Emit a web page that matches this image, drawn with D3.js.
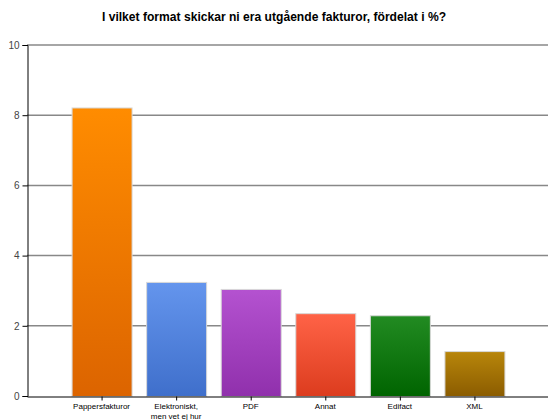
<!DOCTYPE html>
<html><head><meta charset="utf-8">
<script src="https://cdn.jsdelivr.net/npm/d3@7"></script>
<style>body{margin:0;background:#fff}svg{display:block}</style>
</head><body>
<svg id="c" width="548" height="420"></svg>
<script>
const categories = ["Pappersfakturor", "Elektroniskt,\nmen vet ej hur", "PDF", "Annat", "Edifact", "XML"];
const values = [8.22, 3.25, 3.05, 2.36, 2.3, 1.28];
const yTicks = [0, 2, 4, 6, 8, 10];
const topColors = ["#ff8c00", "#6495ed", "#b452d0", "#ff6347", "#228b22", "#b8860b"];
const bottomColors = ["#dc6400", "#3f6fcb", "#9030ac", "#dc3c1e", "#006400", "#8b5c00"];
const title = "I vilket format skickar ni era utgående fakturor, fördelat i %?";

const svg = d3.select("#c");
const mLeft = 27, mRight = 549, mTop = 45, mBottom = 396;
const x = d3.scaleLinear().domain([0, categories.length + 1]).range([mLeft, mRight]);
const y = d3.scaleLinear().domain([0, 10]).range([mBottom, mTop]);
const barW = 60;

const defs = svg.append("defs");
categories.forEach((c, i) => {
  const g = defs.append("linearGradient").attr("id", "g" + i)
    .attr("x1", 0).attr("y1", 0).attr("x2", 0).attr("y2", 1);
  g.append("stop").attr("offset", "0%").attr("stop-color", topColors[i]);
  g.append("stop").attr("offset", "100%").attr("stop-color", bottomColors[i]);
});

svg.append("text").attr("x", 274).attr("y", 21).attr("text-anchor", "middle")
  .attr("font-family", "Liberation Sans, Arial, sans-serif").attr("font-weight", "bold")
  .attr("font-size", 12.1).attr("fill", "#000").text(title);

// gridlines
svg.append("g").selectAll("line").data(yTicks.filter(d => d > 0)).join("line")
  .attr("x1", mLeft).attr("x2", mRight).attr("y1", d => y(d)).attr("y2", d => y(d))
  .attr("stroke", "#888").attr("stroke-width", 1.5);

// bars
svg.append("g").selectAll("rect").data(values).join("rect")
  .attr("x", (d, i) => x(i + 1) - barW / 2 + 0.5).attr("width", barW)
  .attr("y", d => y(d) + 0.5).attr("height", d => mBottom - y(d))
  .attr("fill", (d, i) => `url(#g${i})`)
  .attr("stroke", "#d8d8d8").attr("stroke-width", 1);

// y axis
const yAxis = d3.axisLeft(y).tickValues(yTicks).tickSize(5).tickPadding(3).tickFormat(d3.format("d"));
const ya = svg.append("g").attr("transform", `translate(${mLeft + 0.5},0)`).call(yAxis);
ya.select(".domain").attr("stroke", "#000");
ya.selectAll(".tick line").attr("stroke", "#000");
ya.selectAll("text").attr("font-family", "Liberation Sans, Arial, sans-serif").attr("font-size", 10).attr("fill", "#444");

// x axis
const xAxis = d3.axisBottom(x).tickValues(d3.range(1, categories.length + 1)).tickSize(4).tickSizeOuter(0).tickFormat("");
const xa = svg.append("g").attr("transform", `translate(0,${mBottom + 0.5})`).call(xAxis);
xa.select(".domain").attr("stroke", "#000");
xa.selectAll(".tick line").attr("stroke", "#000");

const lab = svg.append("g").selectAll("text").data(categories).join("text")
  .attr("x", (d, i) => x(i + 1)).attr("y", 409)
  .attr("text-anchor", "middle").attr("font-family", "Liberation Sans, Arial, sans-serif")
  .attr("font-size", 8).attr("fill", "#000");
lab.each(function(d) {
  const t = d3.select(this);
  d.split("\n").forEach((s, k) => t.append("tspan").attr("x", t.attr("x")).attr("dy", k ? 9.5 : 0).text(s));
});
</script>
</body></html>
